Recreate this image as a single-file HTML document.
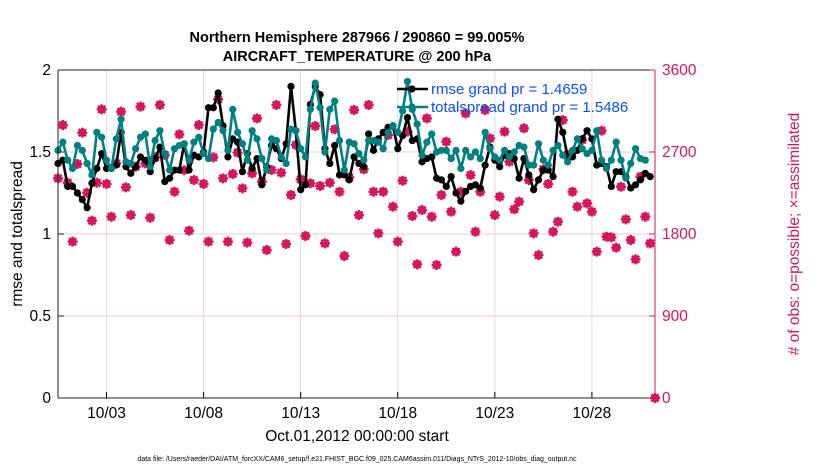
<!DOCTYPE html>
<html><head><meta charset="utf-8"><style>
body{margin:0;background:#fff;width:830px;height:470px;overflow:hidden}
svg{font-family:"Liberation Sans",sans-serif}
</style></head><body>
<svg id="chart" width="830" height="470"></svg>
<script>
const rmse=[1.43,1.45,1.29,1.29,1.25,1.21,1.16,1.31,1.40,1.49,1.40,1.40,1.42,1.62,1.41,1.37,1.41,1.47,1.45,1.38,1.46,1.53,1.32,1.34,1.39,1.39,1.55,1.39,1.48,1.47,1.50,1.77,
1.77,1.86,1.66,1.47,1.58,1.56,1.38,1.49,1.40,1.46,1.30,1.41,1.54,1.52,1.46,1.55,1.90,1.63,1.27,1.30,1.79,1.90,1.85,1.52,1.43,1.54,1.36,1.36,1.33,1.47,1.43,
1.41,1.61,1.51,1.58,1.62,1.65,1.66,1.52,1.60,1.71,1.57,1.58,1.44,1.46,1.47,1.34,1.33,1.29,1.35,1.25,1.20,1.26,1.29,1.30,1.28,1.42,1.53,1.45,1.41,1.48,
1.49,1.46,1.34,1.46,1.36,1.27,1.33,1.39,1.39,1.35,1.70,1.62,1.47,1.47,1.51,1.58,1.63,1.58,1.42,1.43,1.41,1.29,1.38,1.38,1.35,1.28,1.30,1.33,1.37,1.35];
const spread=[1.51,1.56,1.45,1.40,1.54,1.51,1.43,1.36,1.62,1.59,1.45,1.40,1.58,1.70,1.44,1.43,1.52,1.59,1.61,1.41,1.57,1.63,1.49,1.39,1.52,1.54,1.55,1.45,1.56,1.59,1.49,1.46,
1.64,1.68,1.63,1.51,1.76,1.62,1.55,1.45,1.63,1.58,1.46,1.39,1.58,1.57,1.47,1.43,1.64,1.63,1.52,1.47,1.76,1.92,1.77,1.50,1.76,1.81,1.57,1.39,1.56,1.55,1.49,
1.45,1.57,1.57,1.56,1.52,1.62,1.66,1.62,1.75,1.93,1.76,1.67,1.48,1.56,1.61,1.50,1.51,1.51,1.46,1.51,1.40,1.51,1.47,1.50,1.46,1.62,1.52,1.47,1.45,
1.51,1.47,1.50,1.54,1.53,1.42,1.42,1.55,1.45,1.42,1.51,1.54,1.48,1.44,1.51,1.58,1.52,1.49,1.51,1.63,1.45,1.40,1.45,1.56,1.45,1.34,1.43,1.52,1.46,1.45];
const nobs=[2411,2996,2363,1716,2568,2912,2253,1946,2363,3168,2349,1990,2575,3143,2312,2008,2539,3198,2575,1979,2641,3216,2667,1734,2264,2894,2500,1836,2393,2996,2349,1716,
2641,3278,2411,1716,2458,2693,2301,1705,2466,3069,2374,1624,2502,3216,2473,1690,2228,2777,2400,1778,2356,2985,2327,1697,2363,2949,2264,1558,2422,3161,2008,
2510,3216,2264,1807,2264,2886,2100,1716,2385,2923,1997,1467,2063,3069,1990,1460,2228,2813,2045,1606,2264,3124,2447,1825,2264,3161,2850,2008,2210,2923,
2594,2071,2155,2960,2393,1807,1569,2510,2349,1825,1935,3051,2667,2264,2100,2832,2136,2045,1606,2934,1770,1763,1650,2319,1961,1734,1522,2429,1990,1697,0];
const dayTicks=[2.5,7.5,12.5,17.5,22.5,27.5];
const dayLabels=["10/03","10/08","10/13","10/18","10/23","10/28"];
const leftTicks=[0,0.5,1,1.5,2];
const rightTicks=[0,900,1800,2700,3600];

const X0=58,X1=655,Y0=398,Y1=70,NS="http://www.w3.org/2000/svg",PINK="#d6165c",TEAL="#008080";
const tMax=30.75;
const xs=t=>X0+t/tMax*(X1-X0);
const xi=i=>xs(i*0.25);
const yl=v=>Y0-v/2*(Y0-Y1);
const yr=n=>Y0-n/3600*(Y0-Y1);
const svg=document.getElementById('chart');
function el(tag,a,p){const e=document.createElementNS(NS,tag);for(const k in a)e.setAttribute(k,a[k]);(p||svg).appendChild(e);return e;}
function txt(s,a,p){const e=el('text',a,p);e.textContent=s;return e;}

leftTicks.forEach(v=>{if(v>0&&v<2){const g=el('line',{x1:X0,x2:X1,y1:yl(v),y2:yl(v),stroke:'#f4c6d6','stroke-width':1});

}});
dayTicks.forEach((d,k)=>{const g=el('line',{x1:xs(d),x2:xs(d),y1:Y1,y2:Y0,stroke:'#dddddd','stroke-width':1});


const t=el('line',{x1:xs(d),x2:xs(d),y1:Y0,y2:Y0-6,stroke:'#000'});


const l=txt(dayLabels[k],{x:xs(d),y:418,'text-anchor':'middle','font-size':15.5});

});

const og=el('g',{});


nobs.forEach((n,i)=>{const x=xi(i),y=yr(n);
const c=el('circle',{cx:x,cy:y,r:3.2,fill:'none',stroke:PINK,'stroke-width':1.8},og);


const s=el('path',{d:`M${x-5},${y}H${x+5}M${x},${y-5}V${y+5}M${x-3.6},${y-3.6}L${x+3.6},${y+3.6}M${x-3.6},${y+3.6}L${x+3.6},${y-3.6}`,stroke:PINK,'stroke-width':2.4},og);

});

function series(arr,color,name){const g=el('g',{});


el('polyline',{points:arr.map((v,i)=>xi(i)+','+yl(v)).join(' '),fill:'none',stroke:color,'stroke-width':2.6,'stroke-linejoin':'round'},g);
arr.forEach((v,i)=>{const c=el('circle',{cx:xi(i),cy:yl(v),r:3.6,fill:color},g);

});}
series(rmse,'#000','rmse-series');
series(spread,TEAL,'totalspread-series');

const ax=el('g',{});


el('line',{x1:X0,x2:X1,y1:Y1,y2:Y1,stroke:'#222'},ax);
el('line',{x1:X0,x2:X1,y1:Y0,y2:Y0,stroke:'#222'},ax);
el('line',{x1:X0,x2:X0,y1:Y1,y2:Y0,stroke:'#222'},ax);
el('line',{x1:X1,x2:X1,y1:Y1,y2:Y0,stroke:PINK},ax);
leftTicks.forEach(v=>{el('line',{x1:X0,x2:X0+6,y1:yl(v),y2:yl(v),stroke:'#222'},ax);
const l=txt(String(v),{x:51,y:yl(v)+5,'text-anchor':'end','font-size':15.5});

});
rightTicks.forEach(v=>{el('line',{x1:X1,x2:X1-6,y1:yr(v),y2:yr(v),stroke:PINK},ax);
const l=txt(String(v),{x:662,y:yr(v)+5,'font-size':15.5,fill:PINK});

});

const lg=el('g',{});


[['#000','rmse grand pr = 1.4659',89],[TEAL,'totalspread grand pr = 1.5486',107]].forEach(([c,s,y])=>{
el('line',{x1:397,x2:428,y1:y,y2:y,stroke:c,'stroke-width':2.6},lg);
el('circle',{cx:412,cy:y,r:3.6,fill:c},lg);
const l=txt(s,{x:431,y:y+5,'font-size':15,fill:'#0b4dff'},lg);

});
</script>
<svg width="830" height="470" style="position:absolute;left:0;top:0;font-family:'Liberation Sans',sans-serif">
<text x="357" y="42" text-anchor="middle" font-size="14.5" font-weight="bold">Northern Hemisphere 287966 / 290860 = 99.005%</text>
<text x="357" y="61" text-anchor="middle" font-size="14.5" font-weight="bold">AIRCRAFT_TEMPERATURE @ 200 hPa</text>
<text transform="translate(22,234) rotate(-90)" text-anchor="middle" font-size="15.5">rmse and totalspread</text>
<text transform="translate(799,234) rotate(-90)" text-anchor="middle" font-size="15.5" fill="#d6165c"># of obs: o=possible; ×=assimilated</text>
<text x="357" y="441" text-anchor="middle" font-size="15.5">Oct.01,2012 00:00:00 start</text>
<text x="357" y="461" text-anchor="middle" font-size="7">data file: /Users/raeder/DAI/ATM_forcXX/CAM6_setup/f.e21.FHIST_BGC.f09_025.CAM6assim.011/Diags_NTrS_2012-10/obs_diag_output.nc</text>
</svg>
</body></html>
